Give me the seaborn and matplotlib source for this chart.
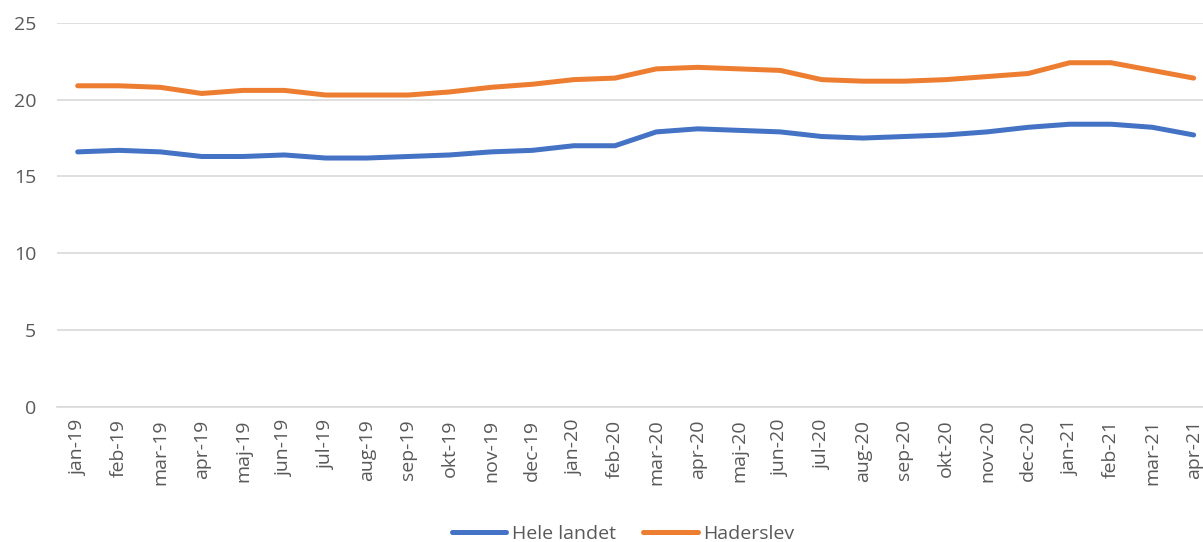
import matplotlib.pyplot as plt
import pandas as pd
import seaborn as sns

months = ['jan-19', 'feb-19', 'mar-19', 'apr-19', 'maj-19', 'jun-19', 'jul-19', 'aug-19',
          'sep-19', 'okt-19', 'nov-19', 'dec-19', 'jan-20', 'feb-20', 'mar-20', 'apr-20',
          'maj-20', 'jun-20', 'jul-20', 'aug-20', 'sep-20', 'okt-20', 'nov-20', 'dec-20',
          'jan-21', 'feb-21', 'mar-21', 'apr-21']
hele_landet = [16.6, 16.7, 16.6, 16.3, 16.3, 16.4, 16.2, 16.2, 16.3, 16.4, 16.6, 16.7, 17.0, 17.0,
               17.9, 18.1, 18.0, 17.9, 17.6, 17.5, 17.6, 17.7, 17.9, 18.2, 18.4, 18.4, 18.2, 17.7]
haderslev = [20.9, 20.9, 20.8, 20.4, 20.6, 20.6, 20.3, 20.3, 20.3, 20.5, 20.8, 21.0, 21.3, 21.4,
             22.0, 22.1, 22.0, 21.9, 21.3, 21.2, 21.2, 21.3, 21.5, 21.7, 22.4, 22.4, 21.9, 21.4]

df = pd.DataFrame({
    'Måned': months * 2,
    'Værdi': hele_landet + haderslev,
    'Serie': ['Hele landet'] * len(months) + ['Haderslev'] * len(months),
})

sns.set_style("white")
plt.rcParams['font.family'] = ['Open Sans', 'DejaVu Sans']

fig = plt.figure(figsize=(12.03, 5.42), dpi=100)
# plot area runs a little past the right edge, as in the reference (cropped)
ax = fig.add_axes([0.0474, 0.249, 0.962, 0.709])

sns.lineplot(data=df, x='Måned', y='Værdi', hue='Serie', sort=False,
             palette=['#4472C4', '#ED7D31'], linewidth=3.6, ax=ax, legend=False)
for ln in ax.lines:
    ln.set_solid_capstyle('round')
    ln.set_solid_joinstyle('round')

grey = '#595959'
ax.set_ylim(0, 25)
ax.set_yticks([0, 5, 10, 15, 20, 25])
ax.yaxis.grid(True, color='#d9d9d9', linewidth=1.2)
ax.set_axisbelow(True)
ax.set_xlim(-0.5, len(months) - 0.5)
ax.set_xticks(range(len(months)))
ax.set_xticklabels(months, rotation=90)
ax.set_xticks([i - 0.5 for i in range(len(months) + 1)], minor=True)
ax.tick_params(axis='x', which='major', length=0, pad=9, labelsize=14, labelcolor=grey)
ax.tick_params(axis='x', which='minor', length=6, color='#d9d9d9', width=1.2)
ax.tick_params(axis='y', length=0, pad=15, labelsize=14, labelcolor=grey)
for side in ['top', 'right', 'left']:
    ax.spines[side].set_visible(False)
ax.spines['bottom'].set_color('#d9d9d9')
ax.spines['bottom'].set_linewidth(1.2)
ax.set_xlabel('')
ax.set_ylabel('')

handles = [plt.Line2D([], [], color='#4472C4', linewidth=3.6, solid_capstyle='round'),
           plt.Line2D([], [], color='#ED7D31', linewidth=3.6, solid_capstyle='round')]
fig.legend(handles, ['Hele landet', 'Haderslev'], loc='lower center', ncol=2,
           bbox_to_anchor=(0.518, -0.034), frameon=False, handlelength=2.8,
           columnspacing=1.4, handletextpad=0.3, labelcolor=grey, fontsize=14)

plt.savefig('out.png', dpi=100)
